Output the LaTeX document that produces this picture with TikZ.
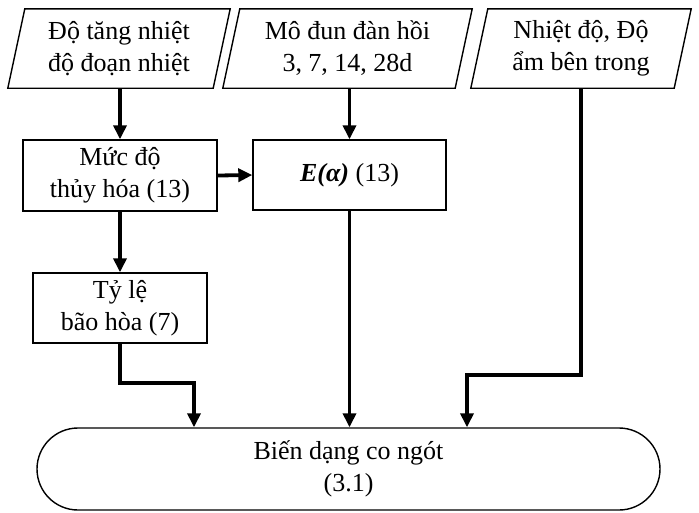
\documentclass[tikz,border=0pt]{standalone}
\usepackage{fontspec}
\setmainfont{Liberation Serif}
\usetikzlibrary{arrows.meta,calc}
\begin{document}
\begin{tikzpicture}[x=1pt,y=-1pt,
  every node/.style={font=\fontsize{26}{32}\selectfont, align=center, inner sep=0pt},
  inbox/.style={minimum height=79pt},
  para/.style={line width=1.4pt, line join=miter},
  procbox/.style={draw, line width=1.4pt},
  endbox/.style={draw, line width=1.4pt, rounded corners=41pt, minimum width=623pt, minimum height=82pt},
  arr/.style={line width=3.8pt, -{Triangle[length=14pt,width=13pt]}}
]
\useasboundingbox (0,0) rectangle (699,512);

% input parallelograms (text holders, outlines drawn below)
\node[inbox, minimum width=205pt] (p1) at (119,48.5) {Độ tăng nhiệt\\độ đoạn nhiệt};
\node[inbox, minimum width=232pt] (p2) at (347.5,48.5) {Mô đun đàn hồi\\3, 7, 14, 28d};
\node[inbox, minimum width=203pt] (p3) at (581,48.5) {Nhiệt độ, Độ\\ẩm bên trong};
\foreach \p in {p1,p2,p3}{
  \draw[para] ($(\p.south west)+(-8.5,0)$) -- ($(\p.north west)+(8.5,0)$)
    -- ($(\p.north east)+(8.5,0)$) -- ($(\p.south east)+(-8.5,0)$) -- cycle;
}

% process boxes
\node[procbox, minimum width=194pt, minimum height=71pt] (b1) at (120,175.5) {Mức độ\\thủy hóa (13)};
\node[procbox, minimum width=193pt, minimum height=70pt] (bE) at (349.5,175) {\textbf{\textit{E(α)}} (13)};
\node[procbox, minimum width=174pt, minimum height=70pt] (b2) at (120,308) {Tỷ lệ\\bão hòa (7)};

% terminal
\node[endbox] (s) at (348.5,469) {Biến dạng co ngót\\(3.1)};

% elbow points
\coordinate (k1) at (194,383);
\coordinate (k2) at (467,375);

% connectors
\draw[arr] (p1.south -| b1.north) -- (b1.north);
\draw[arr] (bE.north |- p2.south) -- (bE.north);
\draw[arr] (b1.east) -- (bE.west);
\draw[arr] (b1.south) -- (b2.north);
\draw[arr] (b2.south) |- (k1) -- (k1 |- s.north);
\draw[arr] (bE.south) -- (bE.south |- s.north);
\draw[arr] (p3.south) |- (k2) -- (k2 |- s.north);
\end{tikzpicture}
\end{document}
